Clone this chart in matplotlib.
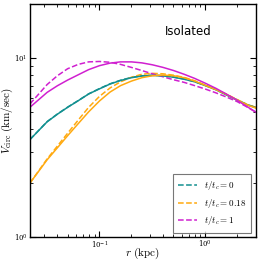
import matplotlib
matplotlib.use("Agg")
import matplotlib.pyplot as plt
from matplotlib.ticker import LogLocator

matplotlib.rcParams['mathtext.fontset'] = 'cm'
matplotlib.rcParams['font.family'] = 'DejaVu Serif'

# radius (kpc)
r = [0.022, 0.032, 0.04, 0.05, 0.063, 0.079, 0.1, 0.126, 0.158, 0.2, 0.251,
     0.316, 0.398, 0.501, 0.631, 0.794, 1.0, 1.26, 1.58, 2.0, 2.51, 3.0]

# circular velocity (km/sec): solid and dashed for each t/t_c
teal_solid = [3.5, 4.4, 4.85, 5.3, 5.77, 6.29, 6.72, 7.15, 7.48, 7.75, 7.92,
              7.98, 7.94, 7.8, 7.6, 7.35, 7.0, 6.64, 6.21, 5.8, 5.45, 5.28]
teal_dash = [3.5, 4.41, 4.86, 5.31, 5.78, 6.3, 6.74, 7.17, 7.5, 7.78, 7.95,
             8.0, 7.96, 7.82, 7.62, 7.37, 7.02, 6.66, 6.24, 5.83, 5.48, 5.3]
orange_solid = [2.0, 2.7, 3.15, 3.68, 4.3, 5.0, 5.75, 6.45, 7.0, 7.42, 7.75,
                7.95, 8.02, 7.95, 7.75, 7.42, 7.02, 6.65, 6.25, 5.82, 5.45, 5.25]
orange_dash = [2.0, 2.73, 3.22, 3.8, 4.5, 5.3, 6.1, 6.8, 7.35, 7.8, 8.1,
               8.2, 8.15, 8.0, 7.78, 7.45, 7.05, 6.68, 6.28, 5.85, 5.48, 5.3]
mag_solid = [5.3, 6.42, 6.99, 7.52, 8.05, 8.6, 9.05, 9.35, 9.5, 9.5, 9.38,
             9.15, 8.85, 8.5, 8.1, 7.68, 7.22, 6.76, 6.28, 5.8, 5.32, 4.98]
mag_dash = [5.53, 7.1, 7.95, 8.7, 9.2, 9.5, 9.55, 9.45, 9.2, 8.85, 8.5,
            8.15, 7.85, 7.55, 7.3, 7.0, 6.7, 6.38, 6.05, 5.7, 5.3, 4.98]

labels = [r'$t/t_c=0$', r'$t/t_c=0.18$', r'$t/t_c=1$']
c_teal, c_orange, c_mag = '#139090', '#ffaa10', '#d020d0'

fig = plt.figure(figsize=(2.6, 2.62), dpi=100)
ax = fig.add_axes([0.115, 0.095, 0.869, 0.89])

ax.plot(r, teal_dash, '--', color=c_teal, lw=1.1, label=labels[0])
ax.plot(r, orange_dash, '--', color=c_orange, lw=1.1, label=labels[1])
ax.plot(r, mag_dash, '--', color=c_mag, lw=1.1, label=labels[2])
ax.plot(r, teal_solid, '-', color=c_teal, lw=1.1)
ax.plot(r, orange_solid, '-', color=c_orange, lw=1.1)
ax.plot(r, mag_solid, '-', color=c_mag, lw=1.1)

ax.set_xscale('log')
ax.set_yscale('log')
ax.set_xlim(0.022, 3.0)
ax.set_ylim(1, 20)
ax.xaxis.set_major_locator(LogLocator(base=10, numticks=10))
ax.yaxis.set_major_locator(LogLocator(base=10, numticks=10))
ax.tick_params(which='both', direction='in', top=True, right=True, labelsize=5, pad=1.5)
ax.tick_params(which='major', length=4, width=0.8)
ax.tick_params(which='minor', length=2, width=0.6)
for s in ax.spines.values():
    s.set_linewidth(1.0)

ax.set_xlabel(r'$r\ \mathrm{(kpc)}$', fontsize=8)
ax.set_ylabel(r'$V_{\rm circ}\ \mathrm{(km/sec)}$', fontsize=8)
ax.xaxis.set_label_coords(0.5, -0.036)
ax.yaxis.set_label_coords(-0.066, 0.5)
ax.text(0.70, 0.88, 'Isolated', transform=ax.transAxes, ha='center', va='center',
        fontsize=8.5, family='DejaVu Sans')

leg = ax.legend(loc='lower right', fontsize=6.5, frameon=True, fancybox=False,
                handlelength=2.0, borderpad=0.6, labelspacing=0.5)
leg.get_frame().set_edgecolor('#555555')
leg.get_frame().set_linewidth(0.8)

fig.savefig('out.png', dpi=100)
